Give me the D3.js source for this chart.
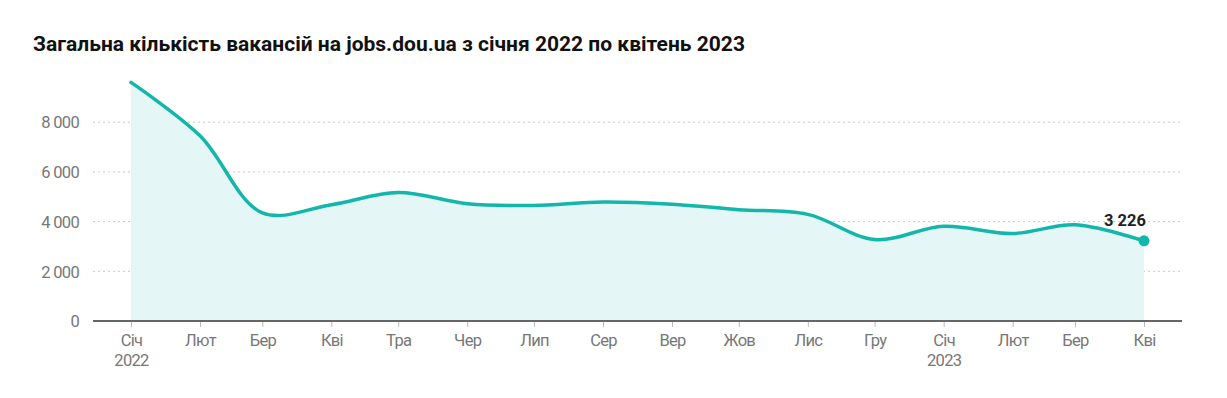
<!doctype html>
<html lang="uk">
<head>
  <meta charset="utf-8">
  <title>Вакансії jobs.dou.ua</title>
  <style>
    body { margin: 0; background: #fff; }
    #chart { width: 1227px; height: 398px; }
    .title { font-family: Roboto, sans-serif; font-weight: 700; font-size: 21px; fill: #111; }
    .axis text { font-family: Roboto, sans-serif; font-size: 16.5px; letter-spacing: -0.7px; fill: #777; }
    .grid line { stroke: #c8c8c8; stroke-dasharray: 2 3; }
    .label { font-family: Roboto, sans-serif; font-weight: 700; font-size: 16.5px; fill: #222; }
  </style>
</head>
<body>
<div id="chart"></div>
<script src="https://d3js.org/d3.v7.min.js"></script>
<script>
  // monthly totals, Jan 2022 .. Apr 2023
  const months = ['2022-01', '2022-02', '2022-03', '2022-04', '2022-05', '2022-06', '2022-07', '2022-08',
    '2022-09', '2022-10', '2022-11', '2022-12', '2023-01', '2023-02', '2023-03', '2023-04'];
  const vacancies = [9600, 7450, 4350, 4680, 5170, 4720, 4650, 4790, 4700, 4480, 4290, 3280, 3810, 3520, 3870, 3226];
  const monthNames = ['Січ', 'Лют', 'Бер', 'Кві', 'Тра', 'Чер', 'Лип', 'Сер', 'Вер', 'Жов', 'Лис', 'Гру'];
  const yTicks = [0, 2000, 4000, 6000, 8000];

  const parse = d3.timeParse('%Y-%m');
  const data = months.map((m, i) => ({ date: parse(m), value: vacancies[i] }));

  const width = 1227, height = 398;
  const svg = d3.select('#chart').append('svg')
    .attr('width', width)
    .attr('height', height);

  svg.append('text')
    .attr('class', 'title')
    .attr('x', 33)
    .attr('y', 51)
    .text('Загальна кількість вакансій на jobs.dou.ua з січня 2022 по квітень 2023');

  // plot frame
  const plotLeft = 93, plotRight = 1182, plotTop = 70, plotBottom = 321;
  const pad = 38;

  const x = d3.scaleTime()
    .domain(d3.extent(data, d => d.date))
    .range([plotLeft + pad, plotRight - pad]);

  const y = d3.scaleLinear()
    .domain([0, 10100])
    .range([plotBottom, plotTop]);

  // grid
  svg.append('g')
    .attr('class', 'grid')
    .selectAll('line')
    .data(yTicks.filter(d => d > 0))
    .join('line')
    .attr('x1', plotLeft)
    .attr('x2', plotRight)
    .attr('y1', d => y(d))
    .attr('y2', d => y(d));

  const curve = d3.curveCatmullRom;

  svg.append('path')
    .datum(data)
    .attr('fill', '#e4f7f6')
    .attr('d', d3.area().x(d => x(d.date)).y0(y(0)).y1(d => y(d.value)).curve(curve));

  svg.append('path')
    .datum(data)
    .attr('fill', 'none')
    .attr('stroke', '#13b6aa')
    .attr('stroke-width', 3.5)
    .attr('stroke-linecap', 'round')
    .attr('d', d3.line().x(d => x(d.date)).y(d => y(d.value)).curve(curve));

  // y axis labels
  const yAxis = svg.append('g')
    .attr('class', 'axis')
    .attr('transform', `translate(${plotLeft - 14},0)`)
    .call(d3.axisLeft(y).tickValues(yTicks).tickSize(0).tickPadding(0)
      .tickFormat(d => d3.format(',')(d).replace(',', ' ')));
  yAxis.select('.domain').remove();
  yAxis.selectAll('text').attr('dy', '0.35em');

  // x axis
  const xAxis = svg.append('g')
    .attr('class', 'axis')
    .attr('transform', `translate(0,${plotBottom})`)
    .call(d3.axisBottom(x).tickValues(data.map(d => d.date)).tickSize(6).tickPadding(6)
      .tickFormat(d => monthNames[d.getMonth()]));
  xAxis.select('.domain').remove();
  xAxis.selectAll('.tick line').attr('stroke', '#bbb').attr('stroke-width', 1);
  xAxis.selectAll('.tick text').attr('y', 13).attr('dy', '0.71em')
    .each(function (d) {
      if (d.getMonth() === 0) {
        d3.select(this).append('tspan')
          .attr('x', 0)
          .attr('dy', '1.2em')
          .text(d.getFullYear());
      }
    });

  svg.append('line')
    .attr('x1', plotLeft).attr('x2', plotRight)
    .attr('y1', plotBottom).attr('y2', plotBottom)
    .attr('stroke', '#666')
    .attr('stroke-width', 2);

  // last value marker
  const last = data[data.length - 1];
  svg.append('circle')
    .attr('cx', x(last.date))
    .attr('cy', y(last.value))
    .attr('r', 5.5)
    .attr('fill', '#13b6aa');

  svg.append('text')
    .attr('class', 'label')
    .attr('x', x(last.date) - 19)
    .attr('y', y(last.value) - 15)
    .attr('text-anchor', 'middle')
    .text(d3.format(',')(last.value).replace(',', ' '));
</script>
</body>
</html>
